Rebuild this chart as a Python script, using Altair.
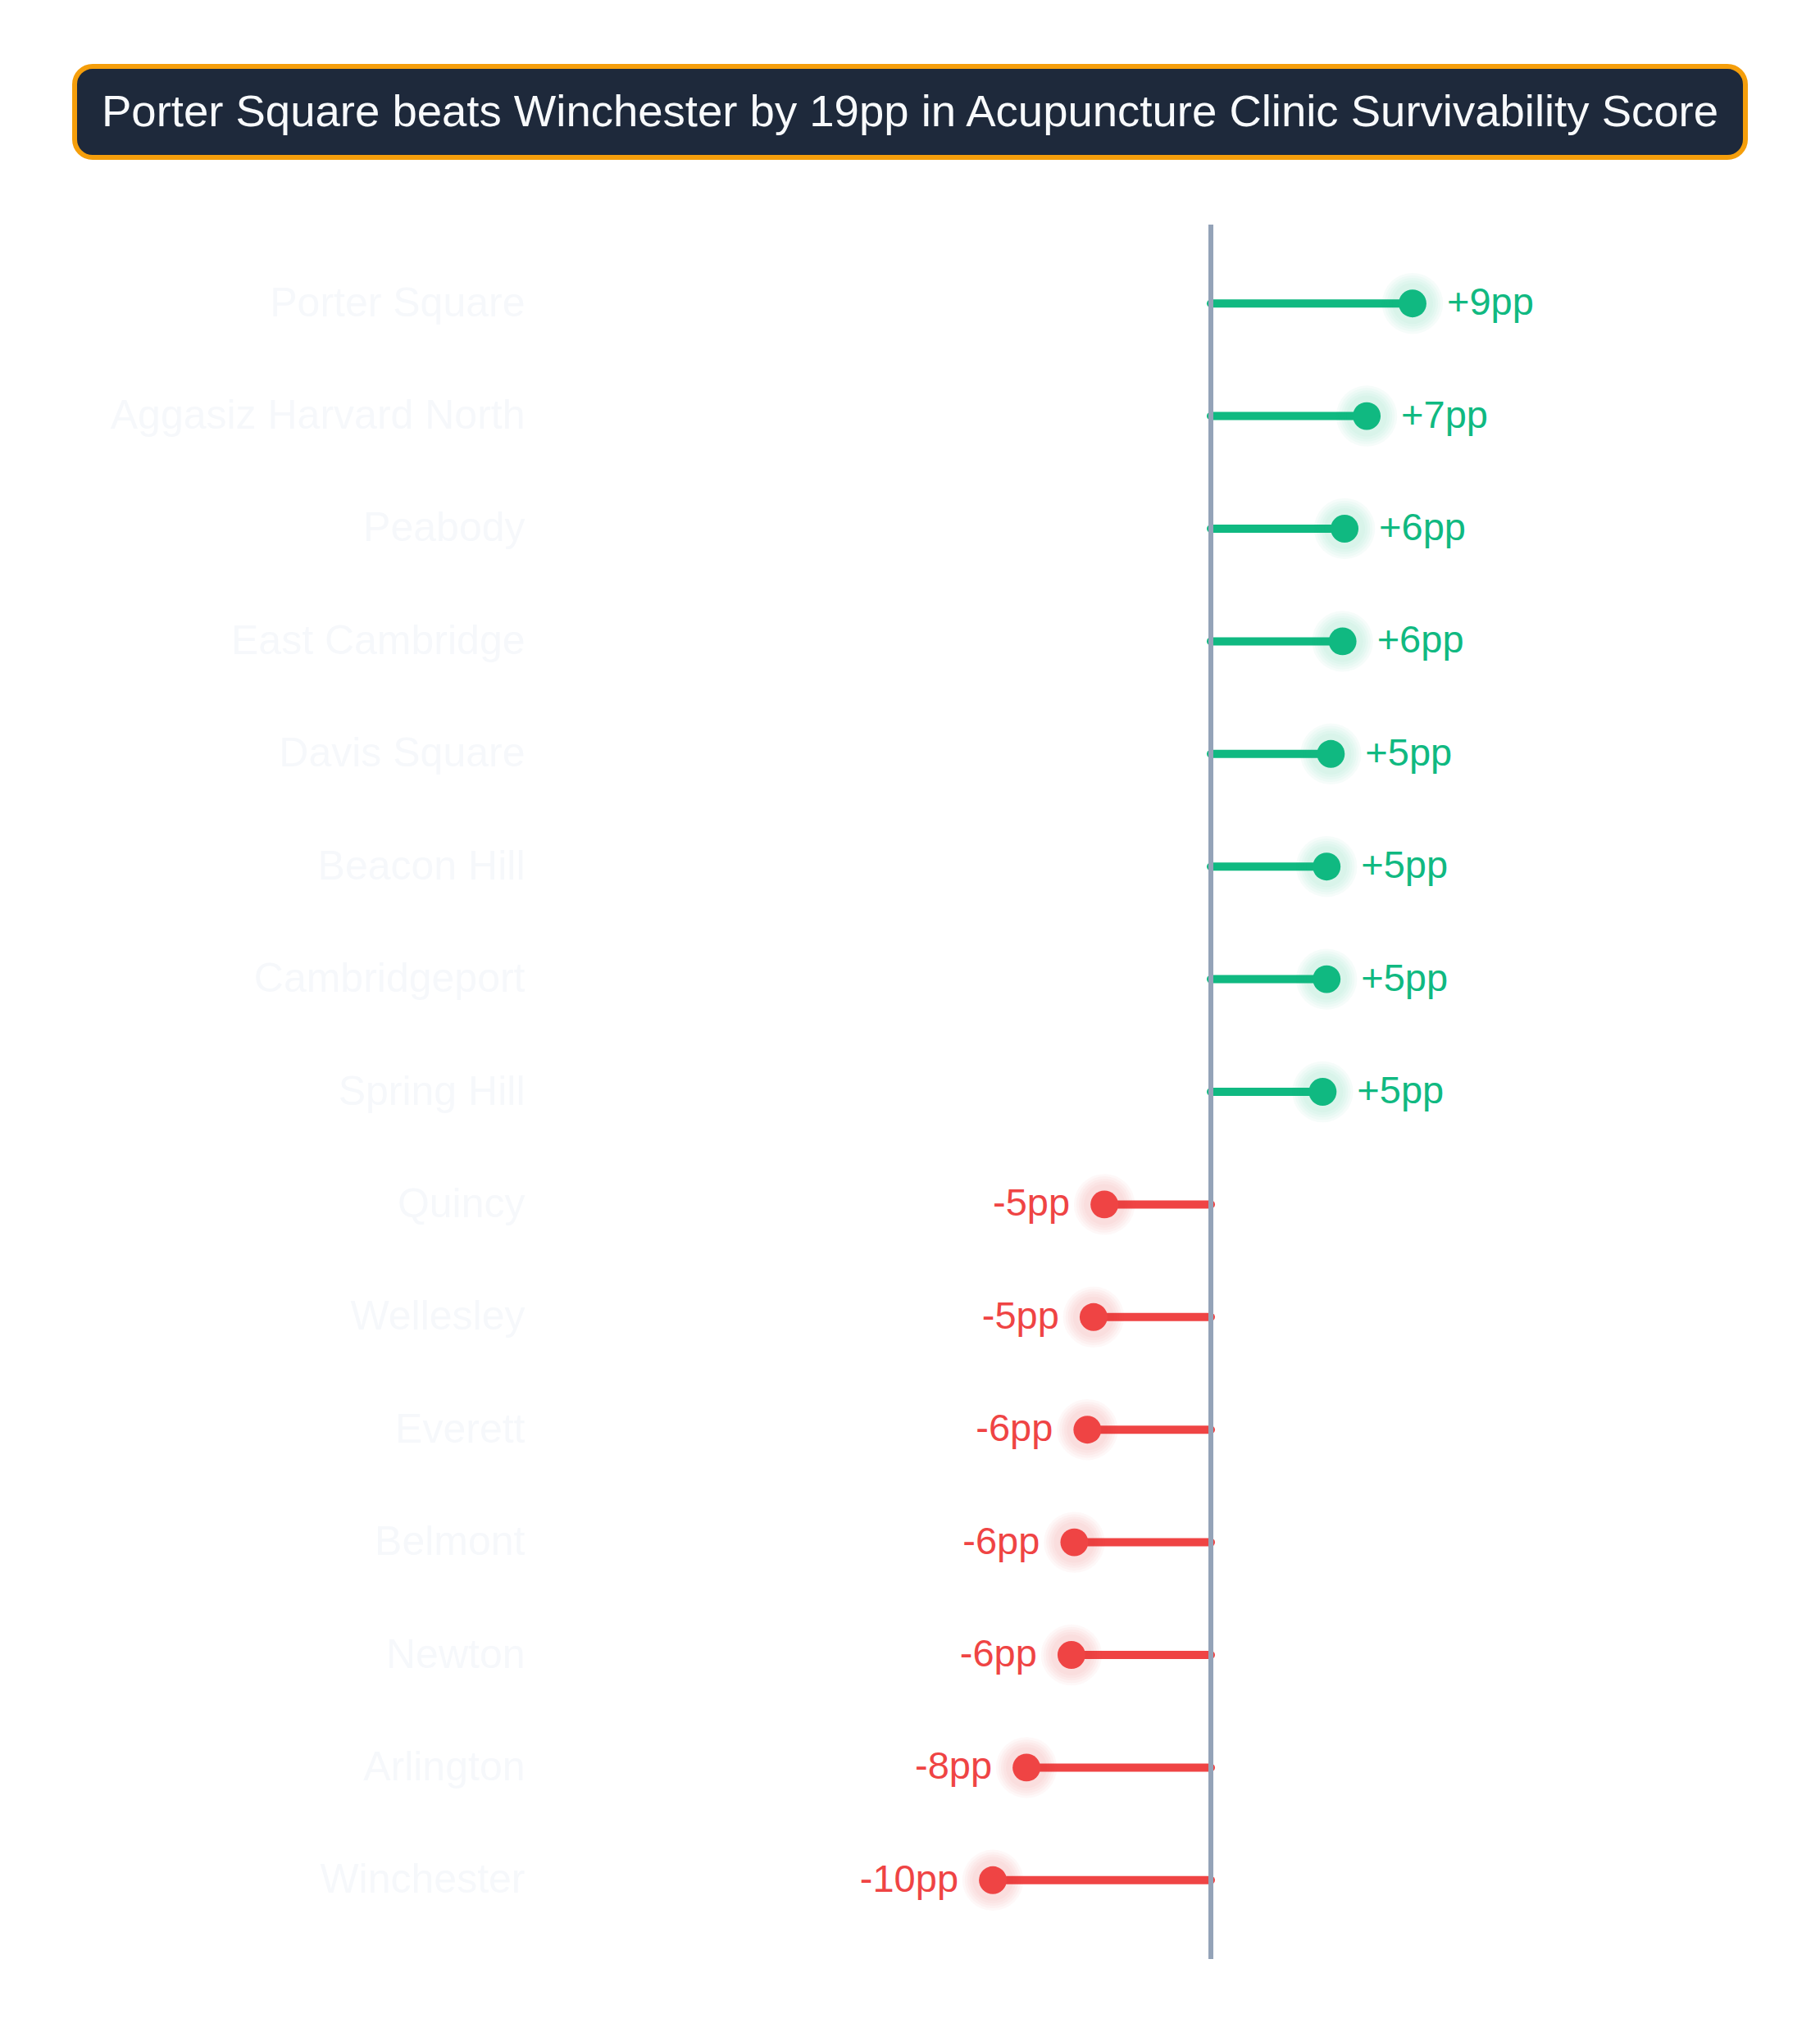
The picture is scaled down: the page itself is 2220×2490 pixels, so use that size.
import altair as alt
import pandas as pd

# neighbourhoods, top to bottom, and their gap vs. the average (pp)
names = ["Porter Square", "Aggasiz Harvard North", "Peabody", "East Cambridge",
         "Davis Square", "Beacon Hill", "Cambridgeport", "Spring Hill",
         "Quincy", "Wellesley", "Everett", "Belmont", "Newton", "Arlington",
         "Winchester"]
values = [9.11, 7.04, 6.04, 5.95, 5.42, 5.23, 5.23, 5.05,
          -4.81, -5.30, -5.58, -6.17, -6.30, -8.33, -9.85]
title = "Porter Square beats Winchester by 19pp in Acupuncture Clinic Survivability Score"

GREEN = "#10b981"
RED = "#ef4444"
FONT = "Liberation Sans"

df = pd.DataFrame({"name": names, "value": values})
df["zero"] = 0
df["col"] = [GREEN if v > 0 else RED for v in values]
df["label"] = [f"{v:+.0f}pp" for v in values]

x_scale = alt.Scale(domain=[-30, 25])
y_enc = alt.Y("name:N", sort=names,
              scale=alt.Scale(type="point", padding=0.7, domain=names),
              axis=alt.Axis(title=None, ticks=False, domain=False, grid=False,
                            labelFontSize=50, labelColor="#f6f8fb", labelFont=FONT,
                            labelPadding=27, labelLimit=0))
col = alt.Color("col:N", scale=None)

base = alt.Chart(df)

stems = base.mark_rule(strokeWidth=10, strokeCap="round").encode(
    x=alt.X("zero:Q", scale=x_scale, axis=None), x2="value:Q", y=y_enc, color=col)

zero_line = alt.Chart(pd.DataFrame({"z": [0]})).mark_rule(
    color="#94a3b8", strokeWidth=6).encode(x=alt.X("z:Q", scale=x_scale, axis=None))

# soft halo: a few stacked faint circles round each dot
glows = [base.mark_circle(opacity=op).encode(
    x=alt.X("value:Q", scale=x_scale, axis=None), y=y_enc, color=col,
    size=alt.value(s)) for s, op in [(5540, 0.04), (4700, 0.035), (3900, 0.035),
                                     (3200, 0.03), (2500, 0.03)]]

dots = base.mark_circle(opacity=1).encode(
    x=alt.X("value:Q", scale=x_scale, axis=None), y=y_enc, color=col,
    size=alt.value(1150))

pos_text = base.transform_filter("datum.value > 0").mark_text(
    align="left", baseline="middle", dx=42, fontSize=47, font=FONT).encode(
    x=alt.X("value:Q", scale=x_scale, axis=None), y=y_enc, color=col, text="label:N")
neg_text = base.transform_filter("datum.value < 0").mark_text(
    align="right", baseline="middle", dx=-42, fontSize=47, font=FONT).encode(
    x=alt.X("value:Q", scale=x_scale, axis=None), y=y_enc, color=col, text="label:N")

# title box sits above the plot area, inside the top padding
tdf = pd.DataFrame({"t": [title]})
title_box = alt.Chart(tdf).mark_rect(
    cornerRadius=22, fill="#1e293b", stroke="#f59e0b", strokeWidth=6).encode(
    x=alt.value(-576), x2=alt.value(1462), y=alt.value(-193), y2=alt.value(-82))
title_text = alt.Chart(tdf).mark_text(
    align="center", baseline="middle", fontSize=54.5, font=FONT, color="#f8fafc").encode(
    x=alt.value(443), y=alt.value(-136), text="t:N")

chart = alt.layer(
    title_box, title_text, stems, zero_line, *glows, dots, pos_text, neg_text
).properties(
    width=1485, height=2116,
    padding={"left": 659, "top": 266, "right": 60, "bottom": 92},
    autosize=alt.AutoSizeParams(type="none"),
    background="white",
).configure_view(stroke=None)

chart.save("out.html", embed_options={"renderer": "svg", "actions": False})
